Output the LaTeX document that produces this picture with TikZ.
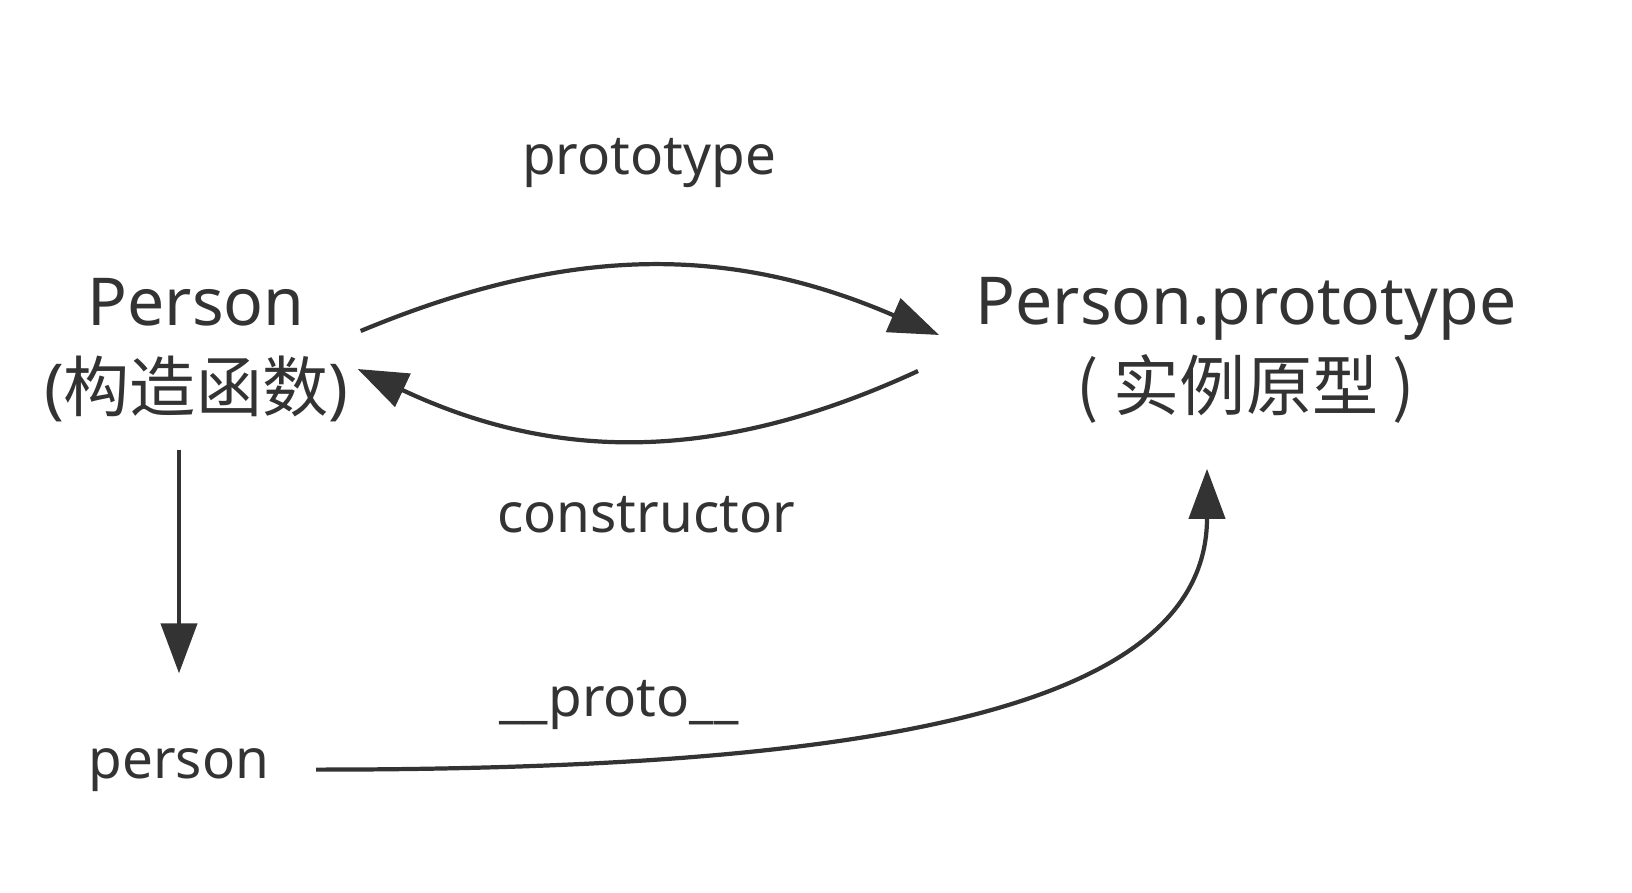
\documentclass[tikz,border=0pt]{standalone}
\usepackage{fontspec}
\setmainfont{Noto Sans}
\newfontfamily\cjk{Noto Sans CJK SC}
\usetikzlibrary{arrows.meta}
\definecolor{ink}{HTML}{333333}

\begin{document}
\begin{tikzpicture}[
  big/.style={align=center, inner sep=0pt, text=ink, font=\fontsize{18.8}{24.5}\selectfont},
  lab/.style={anchor=base, inner sep=0pt, text=ink, font=\fontsize{15.6}{18}\selectfont},
  link/.style={draw=ink, line width=1.2pt, -{Triangle[length=0.5cm,width=0.36cm]}}
]
\useasboundingbox (0,0) rectangle (16.32,8.92);
% constructor and its prototype
\node[big] (ctor) at (1.96,5.42) {Person\\({\cjk 构造函数})};
\node[big] (proto) at (12.46,5.42) {Person.prototype\\{\cjk ( 实例原型 )}};
% the instance
\node[lab] (person) at (1.79,1.14) {person};
% labels
\node[lab] (lproto) at (6.49,7.17) {prototype};
\node[lab] (lctor) at (6.46,3.59) {constructor};
\node[lab] (lunder) at (6.19,1.76) {\_\_proto\_\_};
% prototype / constructor
\draw[link] ([xshift=0.12cm,yshift=0.19cm]ctor.east) to[bend left=23] ([xshift=-0.36cm,yshift=0.15cm]proto.west);
\draw[link] ([xshift=-0.57cm,yshift=-0.21cm]proto.west) to[bend left=25] ([xshift=0.09cm,yshift=-0.19cm]ctor.east);
% new
\draw[link, shorten <=0.27cm, shorten >=0.74cm] (ctor.south -| person.north) -- (person.north);
% __proto__
\draw[link] ([xshift=0.46cm]person.east) .. controls +(5.6,0) and +(0,-2.4) .. ([xshift=-0.39cm,yshift=-0.45cm]proto.south);
\end{tikzpicture}
\end{document}
